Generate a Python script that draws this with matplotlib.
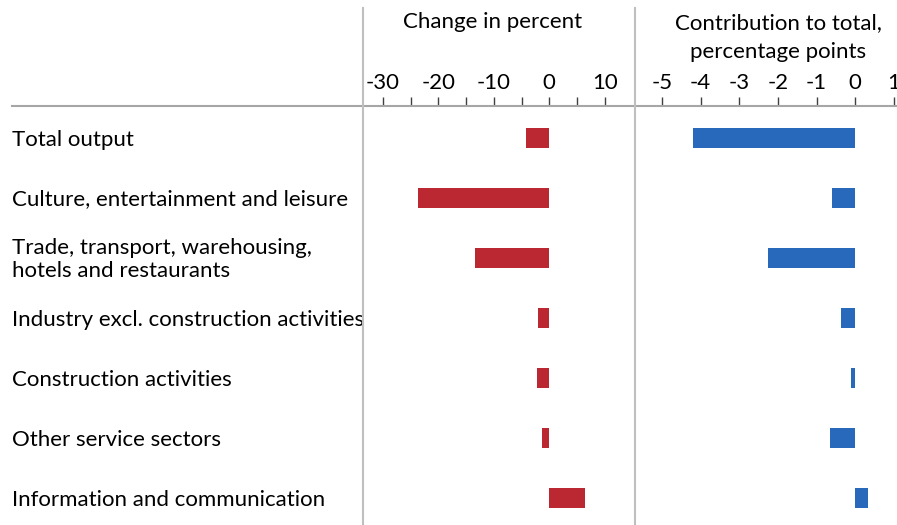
import matplotlib
matplotlib.use("Agg")
import matplotlib.pyplot as plt
from matplotlib.lines import Line2D
from matplotlib.transforms import blended_transform_factory

# Sector data
sectors = [
    "Total output",
    "Culture, entertainment and leisure",
    "Trade, transport, warehousing,\nhotels and restaurants",
    "Industry excl. construction activities",
    "Construction activities",
    "Other service sectors",
    "Information and communication",
]
change_pct = [-4.2, -23.6, -13.3, -2.0, -2.2, -1.4, 6.5]
contribution_pp = [-4.2, -0.6, -2.26, -0.38, -0.12, -0.65, 0.34]

pct_ticks = [-30, -20, -10, 0, 10]
pct_minor = [-25, -15, -5, 5]
pp_ticks = [-5, -4, -3, -2, -1, 0, 1]

RED = "#BC2831"
BLUE = "#2969BB"
GRID = "#A6A6A6"
FONT = "Lato"
FS = 16

W, H = 897, 525
fig = plt.figure(figsize=(W / 100, H / 100), dpi=100)
plt.rcParams["font.family"] = FONT


def px(x, y):
    # pixel position (from top-left) -> figure fraction
    return x / W, 1 - y / H


axis_y = 106
left_x0, left_x1 = 363, 635
right_x0, right_x1 = 635, 897
ax_h = (H - axis_y) / H

ax1 = fig.add_axes([left_x0 / W, 0, (left_x1 - left_x0) / W, ax_h])
ax2 = fig.add_axes([right_x0 / W, 0, (right_x1 - right_x0) / W, ax_h])

ypos = list(range(len(sectors)))
ax1.barh(ypos, change_pct, height=0.34, color=RED)
ax2.barh(ypos, contribution_pp, height=0.34, color=BLUE)

ax1.set_xlim(-33.57, 15.44)
ax2.set_xlim(-5.697, 1.078)
for ax in (ax1, ax2):
    ax.set_ylim(6.455, -0.53)
    ax.set_facecolor("none")
    for s in ax.spines.values():
        s.set_visible(False)
    ax.set_yticks([])
    ax.xaxis.tick_top()
    ax.tick_params(axis="x", which="both", direction="out", length=6.5,
                   width=1, color="#404040", pad=3, labelsize=FS,
                   labelcolor="#000000")

ax1.set_xticks(pct_ticks)
ax1.set_xticks(pct_minor, minor=True)
ax1.set_xticklabels([str(t) for t in pct_ticks])
ax2.set_xticks(pp_ticks)
ax2.set_xticklabels([str(t) for t in pp_ticks])

# Sector labels, left aligned at the figure edge
trans = blended_transform_factory(fig.transFigure, ax1.transData)
for y, name in zip(ypos, sectors):
    ax1.text(12 / W, y + 0.03, name, transform=trans, ha="left", va="center",
             fontsize=FS, linespacing=1.22, clip_on=False)

# Panel titles
fig.text(*px(493, 22), "Change in percent", ha="center", va="center",
         fontsize=FS)
fig.text(*px(778, 23), "Contribution to total,", ha="center", va="center",
         fontsize=FS)
fig.text(*px(778, 52), "percentage points", ha="center", va="center",
         fontsize=FS)

# Separator lines
fig.add_artist(Line2D([12 / W, 1], [1 - axis_y / H] * 2, color=GRID, lw=1.5))
for xv in (left_x0, left_x1):
    fig.add_artist(Line2D([xv / W] * 2, [1 - 8 / H, 0], color="#BFBFBF", lw=1.5))

fig.savefig("out.png", dpi=100)
